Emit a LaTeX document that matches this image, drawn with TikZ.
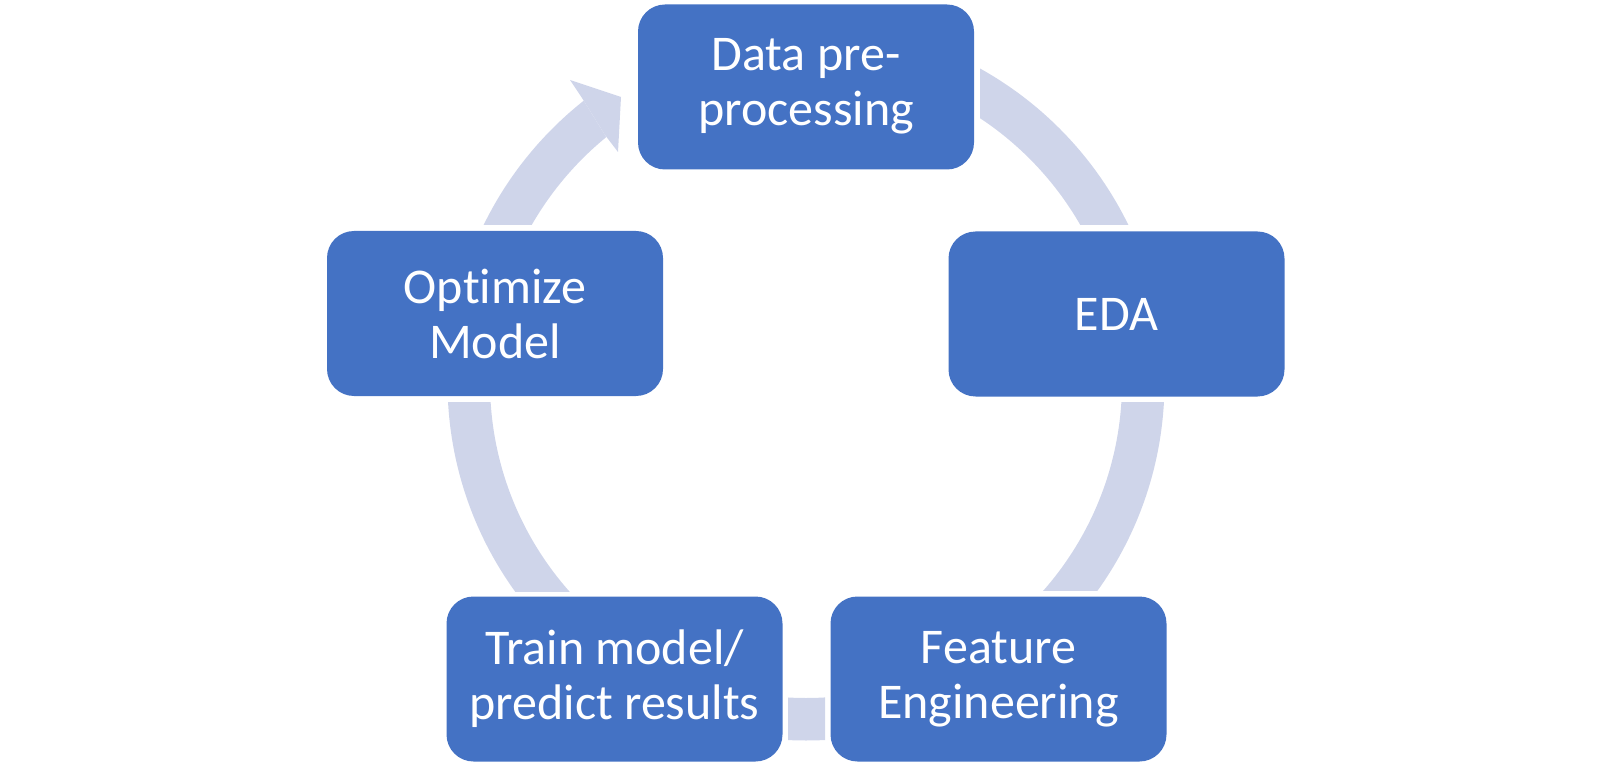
\documentclass[tikz,border=0pt]{standalone}
\usepackage{fontspec}
\setmainfont{Carlito}[Ligatures=NoCommon]
\definecolor{boxblue}{HTML}{4472C4}
\definecolor{arcfill}{HTML}{CFD5EA}
\begin{document}
\begin{tikzpicture}[x=1pt,y=-1pt,
  stagebox/.style={fill=boxblue, draw=none, rounded corners=27pt,
    minimum width=336pt, minimum height=165pt, inner sep=0pt,
    text=white, align=center, font=\fontsize{50}{55}\selectfont},
  band/.style={fill=arcfill, even odd rule}]
\useasboundingbox (0,0) rectangle (1612,767);
\coordinate (c) at (806,382);
% arc bands
\begin{scope}
  \clip (980,0) rectangle (1612,225);
  \fill[band] (c) circle (358.5pt) (c) circle (316pt);
\end{scope}
\begin{scope}
  \clip (806,402) rectangle (1612,590);
  \fill[band] (c) circle (358.5pt) (c) circle (316pt);
\end{scope}
\begin{scope}
  \clip (788,600) rectangle (825,767);
  \fill[band] (c) circle (358.5pt) (c) circle (316pt);
\end{scope}
\begin{scope}
  \clip (0,402) rectangle (806,591);
  \fill[band] (c) circle (358.5pt) (c) circle (316pt);
\end{scope}
\begin{scope}
  \clip (300,225) -- (650,225) -- (605,135) -- (582,98) -- (520,0) -- (300,0) -- cycle;
  \fill[band] (c) circle (358.5pt) (c) circle (316pt);
\end{scope}
\coordinate (ho) at (582,98);
\coordinate (hb1) at (570,80);
\coordinate (ht) at (621,97);
\coordinate (hb2) at (618,152);
\coordinate (hi) at (605,135);
\fill[arcfill] (ho) -- (hb1) -- (ht) -- (hb2) -- (hi) -- cycle;
% boxes
\node[stagebox] (data) at (806,87) {\raisebox{-3pt}{\begin{tabular}{@{}c@{}}Data pre-\\processing\end{tabular}}};
\node[stagebox] (eda) at (1116.5,314) {EDA};
\node[stagebox] (feat) at (998.5,679) {Feature\\Engineering};
\node[stagebox] (train) at (614.5,679) {Train model/\\predict results};
\node[stagebox] (opt) at (495,313.5) {Optimize\\Model};
\end{tikzpicture}
\end{document}
